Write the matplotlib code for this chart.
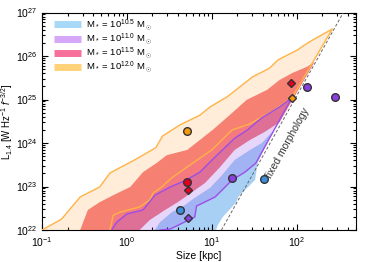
import numpy as np
import matplotlib
matplotlib.use('Agg')
import matplotlib.pyplot as plt
from matplotlib.lines import Line2D
from matplotlib.ticker import LogLocator, NullFormatter

plt.rcParams['font.family'] = ['Liberation Sans', 'DejaVu Sans']
plt.rcParams['mathtext.fontset'] = 'custom'
plt.rcParams['mathtext.rm'] = 'Liberation Sans'
plt.rcParams['mathtext.it'] = 'Liberation Sans:italic'
plt.rcParams['mathtext.bf'] = 'Liberation Sans:bold'

# ---------------- data (log10 size [kpc], log10 L_1.4) ----------------
# M* = 10^12.0 region (upper and lower envelopes)
o_up_x = [-1.00, -0.77, -0.55, -0.32, -0.20, 0.09, 0.34, 0.42, 0.62, 0.86, 0.98, 1.18, 1.48, 1.68, 1.78, 2.01, 2.09, 2.19, 2.42]
o_up_y = [22.00, 22.25, 22.76, 22.99, 23.31, 23.61, 23.89, 24.16, 24.41, 24.64, 24.83, 25.06, 25.52, 25.72, 25.91, 26.14, 26.25, 26.37, 26.62]
o_lo_x = [-0.20, -0.16, -0.08, 0.15, 0.27, 0.31, 0.41, 0.53, 0.74, 1.00, 1.24, 1.45, 1.59, 1.74, 1.94]
o_lo_y = [22.00, 22.34, 22.41, 22.53, 22.69, 22.85, 22.99, 23.20, 23.49, 23.84, 24.30, 24.44, 24.60, 24.76, 25.03]

# M* = 10^11.5 region
p_up_x = [-0.55, -0.46, -0.32, -0.16, 0.04, 0.19, 0.35, 0.47, 0.71, 0.86, 1.01, 1.21, 1.41, 1.65, 1.80, 1.95, 2.12, 2.21]
p_up_y = [22.00, 22.46, 22.64, 22.80, 22.99, 23.33, 23.54, 23.72, 23.84, 24.07, 24.30, 24.64, 24.99, 25.22, 25.45, 25.61, 25.75, 25.86]
p_lo_x = [0.15, 0.27, 0.45, 0.60, 0.74, 0.92, 1.09, 1.27, 1.45, 1.62, 1.80]
p_lo_y = [22.00, 22.23, 22.46, 22.64, 22.83, 23.08, 23.43, 23.84, 24.07, 24.25, 24.48]

# M* = 10^11.0 region
u_up_x = [-0.18, -0.12, 0.00, 0.19, 0.33, 0.51, 0.68, 0.86, 1.04, 1.27, 1.42, 1.59, 1.80, 1.94]
u_up_y = [22.00, 22.18, 22.37, 22.46, 22.80, 22.99, 23.13, 23.33, 23.68, 24.11, 24.30, 24.58, 24.83, 25.03]
u_lo_x = [0.39, 0.51, 0.80, 0.82, 1.04, 1.24, 1.39, 1.52]
u_lo_y = [22.00, 22.02, 22.30, 22.55, 22.76, 23.15, 23.33, 23.54]

# M* = 10^10.5 region (upper envelope + right edge)
b_up_x = [0.33, 0.39, 0.53, 0.68, 0.80, 0.98, 1.12, 1.27, 1.45, 1.59, 1.71]
b_up_y = [22.00, 22.18, 22.41, 22.57, 22.74, 22.97, 23.26, 23.61, 23.84, 24.00, 24.25]
b_edge_x = [1.54, 1.51, 1.31, 1.29, 1.13, 1.07, 1.05]
b_edge_y = [23.54, 23.15, 22.76, 22.64, 22.30, 22.11, 22.00]

# fixed morphology track
fm_x = [1.114, 2.55]
fm_y = [22.0, 27.0]

# observed sources
circ_x = [0.71, 0.71, 0.62, 1.235, 1.62, 2.12, 2.45]
circ_y = [24.28, 23.10, 22.46, 23.20, 23.17, 25.29, 25.06]
circ_c = ['#F39A0A', '#E4001E', '#3C8EDD', '#8B3FE0', '#3C8EDD', '#8B3FE0', '#8B3FE0']
diam_x = [1.93, 1.95, 0.72, 0.72]
diam_y = [25.38, 25.03, 22.92, 22.28]
diam_c = ['#E4001E', '#F39A0A', '#E4001E', '#8B3FE0']

labels = [r'M$_*$ = 10$^{10.5}$ M$_\odot$', r'M$_*$ = 10$^{11.0}$ M$_\odot$',
          r'M$_*$ = 10$^{11.5}$ M$_\odot$', r'M$_*$ = 10$^{12.0}$ M$_\odot$']
leg_colors = ['#A8D8F7', '#D6A6F8', '#F7709C', '#FFD27A']

# ---------------- plot ----------------
fig = plt.figure(figsize=(3.74, 2.62), dpi=100)
ax = fig.add_axes([42/374, 1-230/262, (356-42)/374, (230-12.5)/262])
ax.set_xscale('log')
ax.set_yscale('log')

def band(ux, uy, lx, ly):
    xs = np.concatenate([np.array(ux), np.array(lx)[::-1]])
    ys = np.concatenate([np.array(uy), np.array(ly)[::-1]])
    return 10**xs, 10**ys

# blue
bx, by = band(b_up_x + b_edge_x, b_up_y + b_edge_y, [], [])
ax.fill(bx, by, facecolor='#A8D0F5', edgecolor='none', zorder=1)
# pink
px_, py_ = band(p_up_x, p_up_y, p_lo_x, p_lo_y)
ax.fill(px_, py_, facecolor='#F57A80', edgecolor='none', zorder=2)
# purple
ux, uy = band(u_up_x, u_up_y, u_lo_x, u_lo_y)
ax.fill(ux, uy, facecolor='#904CEC', alpha=0.22, edgecolor='none', zorder=3)
# orange
ox, oy = band(o_up_x, o_up_y, o_lo_x, o_lo_y)
ax.fill(ox, oy, facecolor='#FFA030', alpha=0.18, edgecolor='none', zorder=4)

ax.plot(ox, oy, color='#FFB347', lw=1.0, zorder=5)
ax.plot(ux, uy, color='#9B4DE8', lw=1.0, zorder=5)

ax.plot(10**np.array(fm_x), 10**np.array(fm_y), color='#666666', lw=0.7,
        ls=(0, (3, 2)), zorder=6)
ax.text(10**1.90, 10**24.0, 'fixed morphology', rotation=61, ha='center', va='center',
        rotation_mode='anchor', fontsize=7.5, color='#333333', zorder=6)

for x, y, c in zip(circ_x, circ_y, circ_c):
    ax.plot(10**x, 10**y, 'o', ms=5.5, mfc=c, mec='#333333', mew=1.0, zorder=8)
for x, y, c in zip(diam_x, diam_y, diam_c):
    ax.plot(10**x, 10**y, 'D', ms=4.5, mfc=c, mec='#333333', mew=1.0, zorder=8)

ax.set_xlim(0.1, 500)
ax.set_ylim(1e22, 1e27)
ax.xaxis.set_major_locator(LogLocator(base=10, numticks=10))
ax.xaxis.set_minor_locator(LogLocator(base=10, subs=np.arange(2, 10), numticks=20))
ax.xaxis.set_minor_formatter(NullFormatter())
ax.yaxis.set_major_locator(LogLocator(base=10, numticks=10))
ax.yaxis.set_minor_locator(LogLocator(base=10, subs=np.arange(2, 10), numticks=20))
ax.yaxis.set_minor_formatter(NullFormatter())
ax.tick_params(which='both', direction='in', top=True, right=True, labelsize=7.5, width=0.8)
ax.tick_params(which='major', length=4)
ax.tick_params(which='minor', length=2)
for s in ax.spines.values():
    s.set_linewidth(0.8)

ax.set_xlabel('Size [kpc]', fontsize=7.5, labelpad=2)
ax.set_ylabel(r'L$_{1.4}$ [W Hz$^{-1}$ $f^{-3/2}$]', fontsize=7.0, va='center')
ax.yaxis.set_label_coords(-0.11, 0.5)

handles = [Line2D([0], [0], color=c, lw=5, solid_capstyle='butt') for c in leg_colors]
ax.legend(handles, labels, loc='upper left', frameon=False, fontsize=6.8,
          handlelength=2.9, handletextpad=0.5, labelspacing=-0.12,
          borderaxespad=0.0, bbox_to_anchor=(0.025, 0.995))

fig.savefig('out.png', dpi=100)
